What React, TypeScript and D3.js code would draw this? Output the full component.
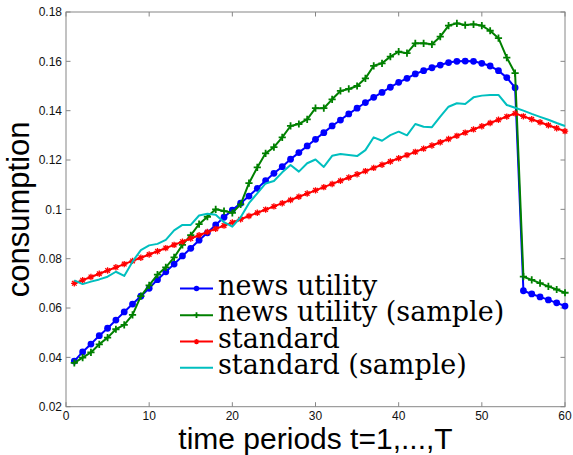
import React from 'react';
import { scaleLinear, line, range } from 'd3';

// time index t = 1..60
const periods = range(1, 61);

// consumption paths
const newsUtility = [
  0.0385, 0.0422, 0.0454, 0.0488, 0.0518, 0.0551, 0.0584, 0.0616, 0.0648, 0.0680,
  0.0715, 0.0747, 0.0778, 0.0811, 0.0842, 0.0875, 0.0905, 0.0937, 0.0968, 0.0997,
  0.1025, 0.1054, 0.1085, 0.1116, 0.1146, 0.1173, 0.1203, 0.1230, 0.1257, 0.1284,
  0.1311, 0.1338, 0.1362, 0.1387, 0.1410, 0.1433, 0.1454, 0.1474, 0.1495, 0.1515,
  0.1531, 0.1549, 0.1562, 0.1574, 0.1585, 0.1595, 0.1600, 0.1601, 0.1600, 0.1592,
  0.1581, 0.1562, 0.1534, 0.1493, 0.0670, 0.0657, 0.0645, 0.0633, 0.0621, 0.0608,
];
const newsUtilitySample = [
  0.0378, 0.0399, 0.0420, 0.0453, 0.0480, 0.0514, 0.0532, 0.0572, 0.0648, 0.0692,
  0.0735, 0.0765, 0.0805, 0.0856, 0.0895, 0.0940, 0.0970, 0.1000, 0.0993, 0.0986,
  0.1020, 0.1106, 0.1170, 0.1227, 0.1252, 0.1292, 0.1338, 0.1346, 0.1365, 0.1410,
  0.1410, 0.1446, 0.1480, 0.1488, 0.1500, 0.1531, 0.1582, 0.1592, 0.1619, 0.1639,
  0.1633, 0.1673, 0.1673, 0.1669, 0.1700, 0.1745, 0.1754, 0.1747, 0.1750, 0.1745,
  0.1724, 0.1694, 0.1615, 0.1552, 0.0727, 0.0714, 0.0701, 0.0688, 0.0675, 0.0662,
];
const standard = [
  0.0700, 0.0713, 0.0726, 0.0739, 0.0752, 0.0765, 0.0778, 0.0791, 0.0804, 0.0817,
  0.0830, 0.0843, 0.0856, 0.0869, 0.0882, 0.0895, 0.0908, 0.0921, 0.0934, 0.0947,
  0.0960, 0.0973, 0.0986, 0.0999, 0.1012, 0.1025, 0.1038, 0.1051, 0.1064, 0.1077,
  0.1090, 0.1103, 0.1116, 0.1129, 0.1142, 0.1155, 0.1168, 0.1181, 0.1194, 0.1207,
  0.1220, 0.1233, 0.1246, 0.1259, 0.1272, 0.1285, 0.1298, 0.1311, 0.1324, 0.1337,
  0.1350, 0.1363, 0.1376, 0.1389, 0.1377, 0.1365, 0.1353, 0.1341, 0.1329, 0.1317,
];
const standardSample = [
  0.0712, 0.0697, 0.0707, 0.0716, 0.0727, 0.0747, 0.0730, 0.0788, 0.0835, 0.0854,
  0.0860, 0.0876, 0.0915, 0.0937, 0.0937, 0.0975, 0.0982, 0.0978, 0.0948, 0.0930,
  0.0968, 0.1025, 0.1065, 0.1105, 0.1115, 0.1150, 0.1180, 0.1153, 0.1187, 0.1202,
  0.1172, 0.1217, 0.1224, 0.1220, 0.1216, 0.1240, 0.1292, 0.1278, 0.1301, 0.1315,
  0.1300, 0.1346, 0.1335, 0.1333, 0.1376, 0.1416, 0.1430, 0.1427, 0.1454, 0.1461,
  0.1464, 0.1464, 0.1423, 0.1412, 0.1400, 0.1387, 0.1375, 0.1363, 0.1350, 0.1338,
];

const xTicks = [0, 10, 20, 30, 40, 50, 60];
const yTicks = [0.02, 0.04, 0.06, 0.08, 0.1, 0.12, 0.14, 0.16, 0.18];

const seriesList = [
  { name: 'news utility', values: newsUtility, color: '#0000ff', marker: 'dot' },
  { name: 'news utility (sample)', values: newsUtilitySample, color: '#008000', marker: 'plus' },
  { name: 'standard', values: standard, color: '#ff0000', marker: 'star' },
  { name: 'standard (sample)', values: standardSample, color: '#00bfbf', marker: 'none' },
];

const W = 573;
const H = 455;
const M = { left: 66, top: 12, right: 565, bottom: 406.7 };
const AXIS = '#868686';
const SANS = '"Liberation Sans", Arial, Helvetica, sans-serif';
const SERIF = '"DejaVu Serif", serif';

function Marker({ kind, color, x, y, s = 1 }) {
  if (kind === 'dot') return <circle cx={x} cy={y} r={3.4 * s} fill={color} />;
  if (kind === 'plus') {
    const a = 3.6 * s;
    return (
      <path d={`M${x - a},${y}H${x + a}M${x},${y - a}V${y + a}`}
        stroke={color} strokeWidth={1.8} fill="none" />
    );
  }
  if (kind === 'star') {
    const a = 3.2 * s;
    const b = 2.3 * s;
    return (
      <path
        d={`M${x - a},${y}H${x + a}M${x},${y - a}V${y + a}` +
          `M${x - b},${y - b}L${x + b},${y + b}M${x - b},${y + b}L${x + b},${y - b}`}
        stroke={color} strokeWidth={1.3} fill="none" />
    );
  }
  return null;
}

export default function App() {
  const x = scaleLinear().domain([0, 60]).range([M.left, M.right]);
  const y = scaleLinear().domain([0.02, 0.18]).range([M.bottom, M.top]);

  const paths = React.useMemo(() => seriesList.map(s => {
    const pts = periods.map((t, i) => [t, s.values[i]]);
    const d = line().x(p => x(p[0])).y(p => y(p[1]))(pts);
    return { ...s, pts, d };
  }), []);

  const legendX0 = 180;
  const legendX1 = 213;
  const legendRows = [288.5, 315.2, 341.6, 367.8];

  return (
    <svg width={W} height={H} style={{ position: 'fixed', left: 0, top: 0, background: '#fff', fontFamily: SANS }}>
      <rect x={0} y={0} width={W} height={H} fill="#fff" />

      {/* axes box */}
      <rect x={M.left} y={M.top} width={M.right - M.left} height={M.bottom - M.top}
        fill="none" stroke={AXIS} strokeWidth={1} />

      {/* ticks, inward on all four sides */}
      {xTicks.map(t => (
        <g key={`xt${t}`}>
          <line x1={x(t)} x2={x(t)} y1={M.bottom} y2={M.bottom - 4.5} stroke={AXIS} />
          <line x1={x(t)} x2={x(t)} y1={M.top} y2={M.top + 4.5} stroke={AXIS} />
          <text x={x(t)} y={420} textAnchor="middle" fill="#111"
            style={{ fontFamily: SANS, fontSize: 12 }}>{t}</text>
        </g>
      ))}
      {yTicks.map(v => (
        <g key={`yt${v}`}>
          <line x1={M.left} x2={M.left + 4.5} y1={y(v)} y2={y(v)} stroke={AXIS} />
          <line x1={M.right} x2={M.right - 4.5} y1={y(v)} y2={y(v)} stroke={AXIS} />
          <text x={62} y={y(v) + 4.2} textAnchor="end" fill="#111"
            style={{ fontFamily: SANS, fontSize: 12 }}>{v}</text>
        </g>
      ))}

      {/* series lines then markers, in plot order */}
      {paths.map(s => (
        <g key={s.name}>
          <path d={s.d} fill="none" stroke={s.color} strokeWidth={2} strokeLinejoin="round" />
          {s.pts.map(([t, v]) => (
            <Marker key={t} kind={s.marker} color={s.color} x={x(t)} y={y(v)} />
          ))}
        </g>
      ))}

      {/* legend */}
      {seriesList.map((s, i) => (
        <g key={`lg${i}`}>
          <line x1={legendX0} x2={legendX1} y1={legendRows[i]} y2={legendRows[i]}
            stroke={s.color} strokeWidth={2} />
          <Marker kind={s.marker} color={s.color} x={(legendX0 + legendX1) / 2} y={legendRows[i]} s={0.8} />
          <text x={218} y={legendRows[i] + 6} fill="#000"
            style={{ fontFamily: SERIF, fontSize: 27 }}>{s.name}</text>
        </g>
      ))}

      {/* axis labels */}
      <text x={(M.left + M.right) / 2} y={449} textAnchor="middle" fill="#000"
        style={{ fontFamily: SANS, fontSize: 30 }}>
        time periods t=1,...,T
      </text>
      <text transform={`translate(29,${(M.top + M.bottom) / 2}) rotate(-90)`} textAnchor="middle"
        fill="#000" style={{ fontFamily: SANS, fontSize: 31 }}>consumption</text>
    </svg>
  );
}
